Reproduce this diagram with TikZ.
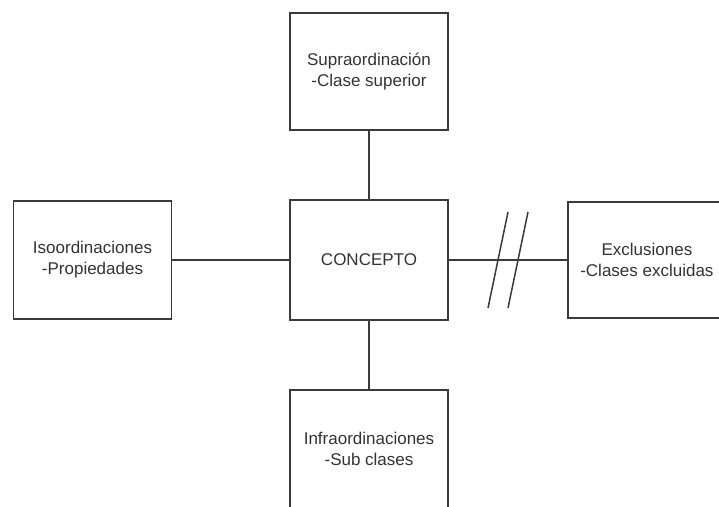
\documentclass[tikz,border=0pt]{standalone}
\usepackage{fontspec}
\setmainfont{Liberation Sans}
\begin{document}
\begin{tikzpicture}[x=1pt,y=-1pt,
  box/.style={draw=linegray, line width=1.8pt, fill=white, rectangle,
    minimum width=158pt, minimum height=118pt, inner sep=0pt,
    align=center, text=textgray, font=\fontsize{17}{21}\selectfont},
  boxtext/.style={align=center, text=textgray, font=\fontsize{17}{21}\selectfont},
  link/.style={draw=linegray, line width=1.8pt},
  slash/.style={draw=linegray, line width=1.5pt}]
  \definecolor{linegray}{HTML}{3A3A3A}
  \definecolor{textgray}{HTML}{333333}
  \useasboundingbox (0,0) rectangle (719,506);
  \fill[white] (0,0) rectangle (719,506);

  % concept in the middle, related classes around it
  \node[box, minimum height=120pt] (concepto) at (369,260) {CONCEPTO};
  \node[box, minimum height=117pt] (supra) at (369,71.5) {Supraordinación\\-Clase superior};
  \node[box] (iso) at (92.5,260) {Isoordinaciones\\-Propiedades};
  \node[box, minimum width=190pt, minimum height=116pt, anchor=west,
        label={[boxtext, xshift=-16pt]center:Exclusiones\\-Clases excluidas}]
        (excl) at (567,260) {};
  \node[box] (infra) at (369,449) {Infraordinaciones\\-Sub clases};

  % links
  \draw[link] (supra.south) -- (concepto.north);
  \draw[link] (concepto.south) -- (infra.north);
  \draw[link] (iso.east) -- (concepto.west);
  \draw[link] (concepto.east) -- (excl.west);

  % break mark on the exclusion link
  \coordinate (s1a) at (488,308);
  \coordinate (s1b) at (508,212);
  \coordinate (s2a) at (508,308);
  \coordinate (s2b) at (528,212);
  \draw[slash] (s1a) -- (s1b);
  \draw[slash] (s2a) -- (s2b);
\end{tikzpicture}
\end{document}
